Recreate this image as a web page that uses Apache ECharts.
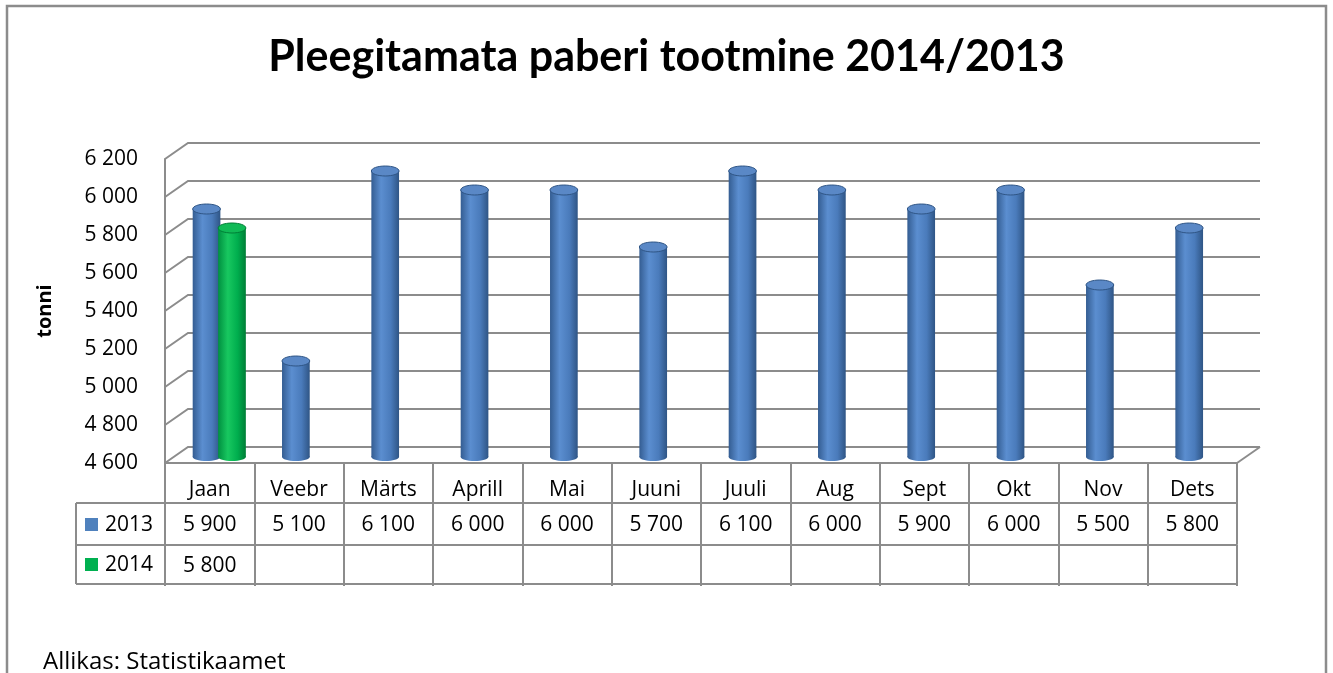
<!DOCTYPE html>
<html lang="et">
<head>
<meta charset="UTF-8">
<title>Pleegitamata paberi tootmine 2014/2013</title>
<script src="https://cdn.jsdelivr.net/npm/echarts@6/dist/echarts.min.js"></script>
<style>
  html, body { margin: 0; padding: 0; background: #fff; }
  #main { width: 1333px; height: 673px; }
</style>
</head>
<body>
<div id="main"></div>
<script>
// andmed
var months = ['Jaan', 'Veebr', 'Märts', 'Aprill', 'Mai', 'Juuni', 'Juuli', 'Aug', 'Sept', 'Okt', 'Nov', 'Dets'];
var s2013 = [5900, 5100, 6100, 6000, 6000, 5700, 6100, 6000, 5900, 6000, 5500, 5800];
var s2014 = [5800, null, null, null, null, null, null, null, null, null, null, null];
var yTicks = [4600, 4800, 5000, 5200, 5400, 5600, 5800, 6000, 6200];

var FONT = '"Open Sans", Lato, sans-serif';
var TITLE_FONT = 'Lato, "Open Sans", sans-serif';
var FS = 21;
var GRAY = '#8c8c8c';
var DX = 23, DY = 16; // sügavuse nihe tagaseinale

function fmt(v) {
    if (v == null) return '';
    return String(v).replace(/\B(?=(\d{3})+(?!\d))/g, ' ');
}

var myChart = echarts.init(document.getElementById('main'));

// silinder: ristkülik + ellipsid (nihutatud poole sügavuse võrra üles)
function cylinder(colors, offFrac) {
    return function (params, api) {
        var v = api.value(1);
        if (v == null || isNaN(v)) return;
        var top = api.coord([api.value(0), v]);
        var base = api.coord([api.value(0), yTicks[0]]);
        var bw = api.size([1, 0])[0];
        var w = bw * 0.31;
        var cx = top[0] + bw * offFrac;
        var yt = top[1] - 7;
        var yb = base[1] - 6;
        var grad = new echarts.graphic.LinearGradient(0, 0, 1, 0, [
            {offset: 0, color: colors[0]},
            {offset: 0.35, color: colors[1]},
            {offset: 0.7, color: colors[2]},
            {offset: 1, color: colors[3]}
        ]);
        return {
            type: 'group',
            children: [
                {type: 'ellipse', shape: {cx: cx, cy: yb, rx: w / 2, ry: 4}, style: {fill: grad}},
                {type: 'rect', shape: {x: cx - w / 2, y: yt, width: w, height: yb - yt}, style: {fill: grad}},
                {type: 'ellipse', shape: {cx: cx, cy: yt, rx: w / 2, ry: 5},
                    style: {fill: colors[4], stroke: colors[3], lineWidth: 1}}
            ]
        };
    };
}

// tagasein ja põrand
function walls(params, api) {
    var cs = params.coordSys;
    var y = api.coord([0, api.value(1)])[1];
    var ch = [{
        type: 'polyline',
        shape: {points: [[cs.x, y], [cs.x + DX, y - DY], [cs.x + cs.width + DX, y - DY]]},
        style: {stroke: GRAY, lineWidth: 2, fill: null}
    }];
    if (api.value(1) === yTicks[0]) {
        ch.push({
            type: 'line',
            shape: {x1: cs.x + cs.width, y1: y, x2: cs.x + cs.width + DX, y2: y - DY},
            style: {stroke: GRAY, lineWidth: 2}
        });
    }
    return {type: 'group', children: ch};
}

var tickStyle = {show: true, length: 41, lineStyle: {color: GRAY, width: 2}};
var lineStyle = {show: true, lineStyle: {color: GRAY, width: 2}};
var labelBase = {color: '#000', fontFamily: FONT, fontSize: FS};

var option = {
    animation: false,
    title: {
        text: 'Pleegitamata paberi tootmine 2014/2013',
        left: 'center',
        top: 31,
        textStyle: {fontFamily: TITLE_FONT, fontWeight: 'bold', fontSize: 43, color: '#000'}
    },
    grid: {left: 165, right: 96, top: 159, bottom: 210},
    xAxis: [
        {
            type: 'category', data: months, position: 'bottom',
            axisLine: lineStyle, axisTick: tickStyle,
            axisLabel: Object.assign({margin: 17}, labelBase)
        },
        {
            type: 'category', data: months, position: 'bottom', offset: 40,
            axisLine: lineStyle, axisTick: tickStyle,
            axisLabel: Object.assign({margin: 12, formatter: function (v, i) { return fmt(s2013[i]); }}, labelBase)
        },
        {
            type: 'category', data: months, position: 'bottom', offset: 82,
            axisLine: lineStyle, axisTick: tickStyle,
            axisLabel: Object.assign({margin: 11, formatter: function (v, i) { return fmt(s2014[i]); }}, labelBase)
        },
        {
            type: 'category', data: months, position: 'bottom', offset: 121,
            axisLine: lineStyle, axisTick: {show: false}, axisLabel: {show: false}
        }
    ],
    yAxis: {
        type: 'value', min: 4600, max: 6200, interval: 200,
        name: 'tonni', nameLocation: 'middle', nameGap: 110, nameRotate: 90,
        nameTextStyle: {fontFamily: FONT, fontWeight: 'bold', fontSize: 20, color: '#000'},
        axisLine: {show: true, lineStyle: {color: GRAY, width: 2}},
        axisTick: {show: false},
        splitLine: {show: false},
        axisLabel: Object.assign({margin: 27, formatter: fmt}, labelBase)
    },
    series: [
        {
            type: 'custom', name: 'grid', silent: true, z: 1,
            data: yTicks.map(function (t) { return [0, t]; }),
            renderItem: walls
        },
        {
            type: 'custom', name: '2013', z: 3,
            data: months.map(function (m, i) { return [i, s2013[i]]; }),
            renderItem: cylinder(['#345d92', '#5b8ed0', '#4a7bbb', '#2f5585', '#5a88c6'], -0.035)
        },
        {
            type: 'custom', name: '2014', z: 3,
            data: months.map(function (m, i) { return [i, s2014[i]]; }),
            renderItem: cylinder(['#009040', '#18c860', '#00ae4e', '#007e36', '#10ba56'], 0.25)
        }
    ]
};
myChart.setOption(option);

// tabeli vasak veerg, allikas ja raam
var rowY = [463, 503, 545, 584];
var x0 = myChart.convertToPixel({xAxisIndex: 0}, months[0]);
var x1 = myChart.convertToPixel({xAxisIndex: 0}, months[1]);
var gridLeft = x0 - (x1 - x0) / 2;
var tableLeft = 76;
var ls = {stroke: GRAY, lineWidth: 2};

var g = [
    {type: 'rect', shape: {x: 7, y: 6, width: 1319, height: 700}, style: {fill: null, stroke: GRAY, lineWidth: 2.5}, silent: true},
    {type: 'line', shape: {x1: tableLeft, y1: rowY[1], x2: gridLeft, y2: rowY[1]}, style: ls},
    {type: 'line', shape: {x1: tableLeft, y1: rowY[2], x2: gridLeft, y2: rowY[2]}, style: ls},
    {type: 'line', shape: {x1: tableLeft, y1: rowY[3], x2: gridLeft, y2: rowY[3]}, style: ls},
    {type: 'line', shape: {x1: tableLeft, y1: rowY[1], x2: tableLeft, y2: rowY[3]}, style: ls},
    {type: 'line', shape: {x1: gridLeft, y1: rowY[0], x2: gridLeft, y2: rowY[3]}, style: ls},
    {type: 'rect', shape: {x: 85, y: 518, width: 13, height: 13}, style: {fill: '#4f81bd'}},
    {type: 'text', x: 105, y: 525, style: {text: '2013', fontFamily: FONT, fontSize: FS, fill: '#000', verticalAlign: 'middle'}},
    {type: 'rect', shape: {x: 85, y: 558, width: 13, height: 13}, style: {fill: '#00b050'}},
    {type: 'text', x: 105, y: 565, style: {text: '2014', fontFamily: FONT, fontSize: FS, fill: '#000', verticalAlign: 'middle'}},
    {type: 'text', x: 43, y: 662, style: {text: 'Allikas: Statistikaamet', fontFamily: FONT, fontSize: 24, fill: '#000', verticalAlign: 'middle'}}
];
myChart.setOption({graphic: g});
</script>
</body>
</html>
